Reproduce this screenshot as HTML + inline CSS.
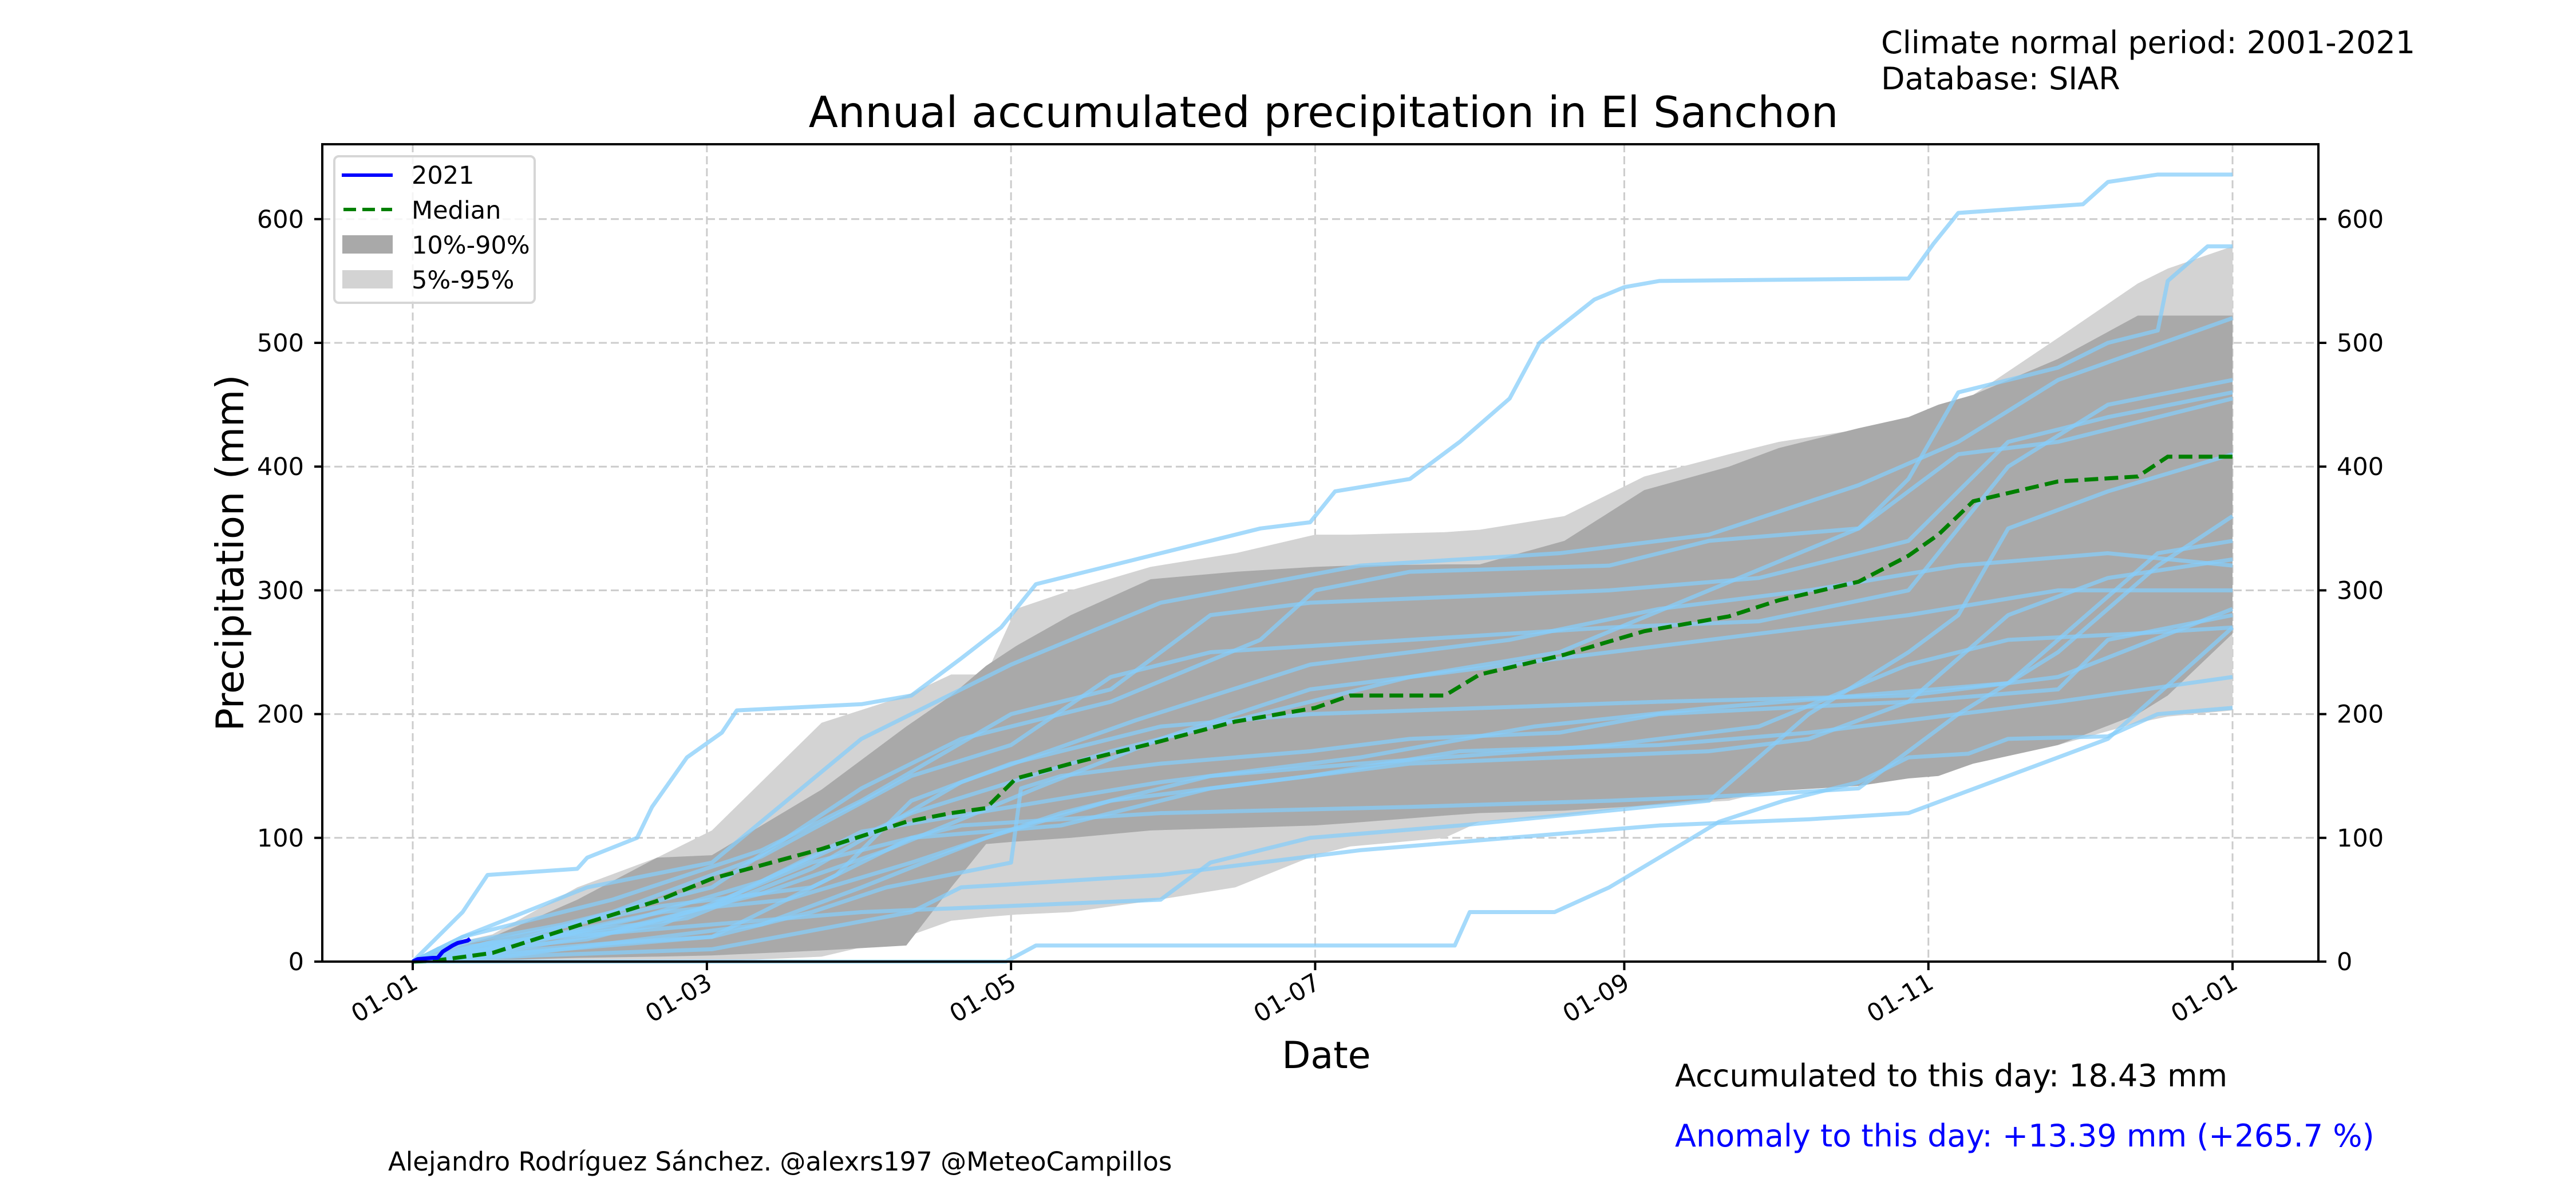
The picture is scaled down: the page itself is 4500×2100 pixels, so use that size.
<!DOCTYPE html>
<html><head><meta charset="utf-8">
<style>
html,body{margin:0;padding:0;background:#fff;}
svg{display:block;font-family:"DejaVu Sans","Liberation Sans",sans-serif;}
</style></head>
<body>
<svg id="chart" width="4500" height="2100" viewBox="0 0 4500 2100" xmlns="http://www.w3.org/2000/svg">
<rect width="4500" height="2100" fill="#fff"/>
<g id="grid"></g>
<g id="plot"></g>
<rect x="563" y="252" width="3487" height="1428" fill="none" stroke="#000" stroke-width="4"/>
<g id="ticks"></g>
<text x="2312" y="222" font-size="75" text-anchor="middle">Annual accumulated precipitation in El Sanchon</text>
<text x="3286" y="93" font-size="54">Climate normal period: 2001-2021</text>
<text x="3286" y="156" font-size="54">Database: SIAR</text>
<text x="0" y="0" font-size="67" text-anchor="middle" transform="translate(425,966) rotate(-90)">Precipitation (mm)</text>
<text x="2317" y="1866" font-size="65" text-anchor="middle">Date</text>
<text x="2926" y="1898" font-size="54">Accumulated to this day: 18.43 mm</text>
<text x="2926" y="2003" font-size="54" fill="#0000ff">Anomaly to this day: +13.39 mm (+265.7 %)</text>
<text x="678" y="2045" font-size="45">Alejandro Rodríguez Sánchez. @alexrs197 @MeteoCampillos</text>
<g id="legend">
<rect x="584" y="273" width="350" height="256" rx="8" fill="#fff" fill-opacity="0.8" stroke="#d6d6d6" stroke-width="4"/>
<line x1="597" y1="306" x2="686" y2="306" stroke="#0000ff" stroke-width="6"/>
<text x="719" y="321" font-size="43">2021</text>
<line x1="600" y1="366" x2="685" y2="366" stroke="#008000" stroke-width="6" stroke-dasharray="22 11"/>
<text x="719" y="382" font-size="43">Median</text>
<rect x="598" y="411" width="88" height="32" fill="#a9a9a9"/>
<text x="719" y="443" font-size="43">10%-90%</text>
<rect x="598" y="472" width="88" height="32" fill="#d3d3d3"/>
<text x="719" y="504" font-size="43">5%-95%</text>
</g>
</svg>
<script>
// ---- data ----
const xTickDays = [0,59,120,181,243,304,365];
const xTickLabels = ["01-01","01-03","01-05","01-07","01-09","01-11","01-01"];
const yTicks = [0,100,200,300,400,500,600];
const bandDays = [0,5,16,33,49,60,82,99,108,115,121,132,148,165,181,188,207,214,231,247,264,274,290,300,306,313,330,346,352,365];
const median = [0,1,7,29,49,67,91,113,120,124,148,160,176,194,205,215,215,232,248,267,279,292,307,328,345,372,388,392,408,408];
const p10 = [0,0,1,3,4,5,9,13,60,95,97,100,106,108,110,112,118,120,122,126,132,138,142,148,150,160,175,200,215,265];
const p90 = [0,8,20,50,84,86,139,190,215,239,255,280,309,315,319,320,321,321,340,381,400,415,431,440,450,458,487,522,522,522];
const p5 = [0,0,0,0,0,0,4,20,33,36,38,40,49,60,86,93,100,113,118,126,130,140,142,150,155,160,175,193,198,203];
const p95 = [0,12,22,60,84,106,193,215,232,232,285,300,319,330,345,345,347,349,360,392,410,420,430,440,450,458,504,548,560,578];
const year2021Days = [0,1,4,5,6,8,9,11,11.5];
const year2021Vals = [0,2,3,3,8,13,15,17,18.4];
// historical years: flat [day, mm, day, mm, ...]
const years = [
 [0,0,5,20,10,40,15,70,33,75,35,84,45,100,48,125,55,165,62,185,65,203,90,208,100,215,110,245,118,270,125,305,150,330,170,350,180,355,185,380,200,390,210,420,220,455,226,500,237,535,243,545,250,550,300,552,305,580,310,605,335,612,340,630,350,636,365,636],
 [0,0,119,0,125,13,209,13,212,40,229,40,240,60,255,96,262,113,275,130,290,145,300,165,312,168,320,180,340,182,350,200,365,205],
 [0,0,20,5,40,15,60,20,80,40,95,60,120,80,122,140,130,150,150,160,180,170,200,180,230,185,250,200,300,210,330,220,340,260,365,280],
 [0,0,10,15,30,30,60,60,90,140,110,180,140,210,170,260,181,300,200,315,240,320,260,340,290,350,300,390,310,460,330,480,340,500,350,510,352,550,360,578,365,578],
 [0,0,15,10,40,40,70,85,100,150,120,175,140,230,160,250,200,260,240,270,270,275,300,300,320,400,340,450,365,470],
 [0,0,20,10,50,30,80,80,110,110,150,120,200,125,240,130,270,135,290,140,310,200,330,250,350,320,365,360],
 [0,0,25,5,60,10,100,40,110,60,150,70,190,90,220,100,250,110,280,115,300,120,320,150,340,180,365,270],
 [0,0,10,20,40,50,70,90,90,130,120,200,140,220,160,280,180,290,210,295,240,300,270,310,300,340,320,420,340,440,365,460],
 [0,0,20,20,50,45,80,60,100,100,130,110,160,140,200,160,230,165,260,170,280,180,300,210,320,280,340,310,365,325],
 [0,0,5,10,30,20,60,30,90,40,120,45,150,50,160,80,180,100,210,110,260,130,280,200,300,250,310,280,320,350,340,380,365,410],
 [0,0,15,15,40,25,70,55,95,90,125,140,150,180,180,220,210,235,240,250,270,265,300,280,330,300,365,300],
 [0,0,30,10,60,20,85,70,100,130,120,160,150,190,180,200,215,205,250,210,300,215,330,230,365,285],
 [0,0,10,5,40,15,70,30,90,60,115,100,140,130,180,150,210,170,250,175,280,185,310,200,330,210,365,230],
 [0,0,20,12,45,35,70,65,100,120,140,170,170,200,200,230,230,250,260,300,290,350,310,410,330,420,350,440,365,455],
 [0,0,10,8,35,18,60,45,90,105,120,125,150,145,190,165,225,190,260,205,290,215,320,225,350,330,365,340],
 [0,0,25,20,55,35,80,75,110,145,145,195,180,240,220,260,250,285,280,300,310,320,340,330,365,320],
 [0,0,20,15,50,40,75,50,100,80,130,120,160,150,190,160,240,175,270,190,300,240,320,260,345,265,365,270],
 [0,0,10,20,35,60,60,80,90,180,120,240,150,290,190,320,230,330,260,345,290,385,310,420,330,470,365,520]
];

// ---- axis functions ----
const X0=721, X1=3900, Y0=1680, YS=2.162;
const xs = d => X0 + (X1-X0)*d/365;
const ys = v => Y0 - YS*v;
const NS='http://www.w3.org/2000/svg';
function mk(tag, attrs, parent){const e=document.createElementNS(NS,tag);for(const k in attrs)e.setAttribute(k,attrs[k]);parent.appendChild(e);return e;}

const grid=document.getElementById('grid'), plot=document.getElementById('plot'), ticks=document.getElementById('ticks');

xTickDays.forEach((d,i)=>{
  const g=mk('line',{x1:xs(d),x2:xs(d),y1:252,y2:1680,stroke:'#cccccc','stroke-width':3,'stroke-dasharray':'14 7'},grid);
  
  
  const t=mk('line',{x1:xs(d),x2:xs(d),y1:1680,y2:1695,stroke:'#000','stroke-width':4},ticks);
  
  
  const lb=mk('text',{x:0,y:0,'font-size':43,'text-anchor':'end',transform:`translate(${xs(d)+12},${1725}) rotate(-30)`},ticks);
  lb.textContent=xTickLabels[i];
  
  
});
yTicks.forEach(v=>{
  const g=mk('line',{x1:563,x2:4050,y1:ys(v),y2:ys(v),stroke:'#cccccc','stroke-width':3,'stroke-dasharray':'14 7'},grid);
  
  
  const t1=mk('line',{x1:549,x2:563,y1:ys(v),y2:ys(v),stroke:'#000','stroke-width':4},ticks);
  
  
  const t2=mk('line',{x1:4050,x2:4064,y1:ys(v),y2:ys(v),stroke:'#000','stroke-width':4},ticks);
  
  
  const l1=mk('text',{x:531,y:ys(v)+15,'font-size':43,'text-anchor':'end'},ticks);
  l1.textContent=v;
  
  
  const l2=mk('text',{x:4082,y:ys(v)+15,'font-size':43},ticks);
  l2.textContent=v;
  
  
});

function bandPath(lo,hi){
  let p='M'+bandDays.map((d,i)=>xs(d)+','+ys(hi[i])).join(' L');
  for(let i=bandDays.length-1;i>=0;i--) p+=' L'+xs(bandDays[i])+','+ys(lo[i]);
  return p+' Z';
}
const b1=mk('path',{d:bandPath(p5,p95),fill:'#d3d3d3'},plot);


const b2=mk('path',{d:bandPath(p10,p90),fill:'#a9a9a9'},plot);



years.forEach((arr,k)=>{
  const pts=[];
  for(let i=0;i<arr.length;i+=2) pts.push(xs(arr[i])+','+ys(arr[i+1]));
  const l=mk('polyline',{points:pts.join(' '),fill:'none',stroke:'#87cefa','stroke-opacity':0.75,'stroke-width':7,'stroke-linejoin':'round'},plot);
  
  
});

const med=mk('polyline',{points:bandDays.map((d,i)=>xs(d)+','+ys(median[i])).join(' '),fill:'none',stroke:'#008000','stroke-width':7,'stroke-dasharray':'24 11'},plot);



const cur=mk('polyline',{points:year2021Days.map((d,i)=>xs(d)+','+ys(year2021Vals[i])).join(' '),fill:'none',stroke:'#0000ff','stroke-width':7,'stroke-linejoin':'round'},plot);


</script>
</body></html>
